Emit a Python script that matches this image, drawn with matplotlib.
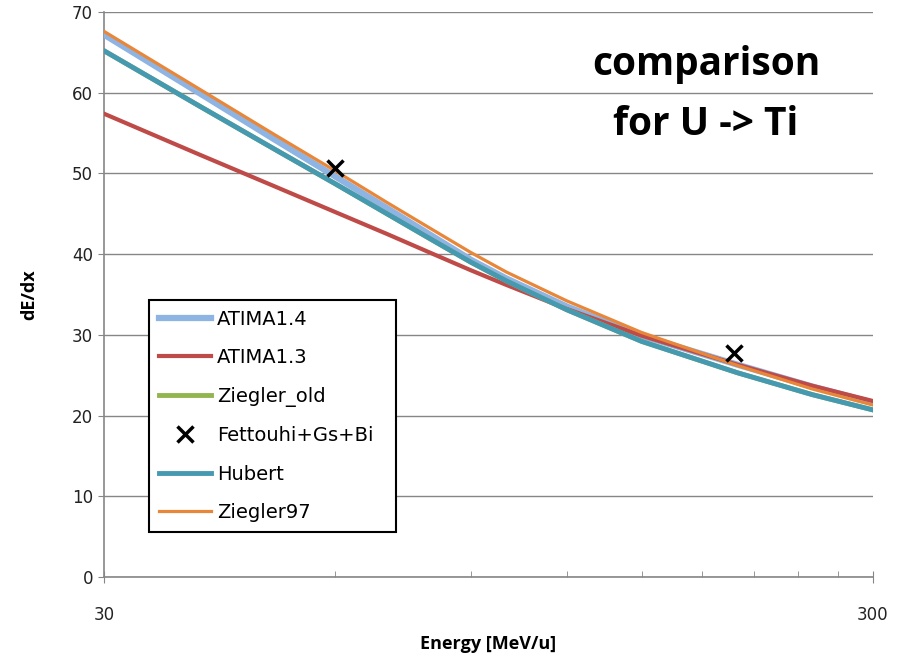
import matplotlib
matplotlib.use("Agg")
import matplotlib.pyplot as plt
from matplotlib.ticker import FixedLocator, NullFormatter

# energy grid [MeV/u]
energy = [30, 40, 50, 60, 70, 80, 90, 100, 120, 150, 200, 250, 300]

# dE/dx curves
atima14 = [67.2, 59.9, 54.2, 49.6, 45.7, 42.3, 39.3, 37.0, 33.5, 29.9, 26.3, 23.6, 21.6]
atima13 = [57.4, 52.3, 48.4, 45.2, 42.5, 40.1, 38.0, 36.2, 33.2, 29.9, 26.3, 23.7, 21.8]
hubert = [65.2, 58.3, 53.0, 48.7, 45.0, 41.8, 39.0, 36.7, 33.1, 29.2, 25.3, 22.6, 20.7]
ziegler_old = hubert  # hidden under the Hubert curve
ziegler97 = [67.6, 60.4, 54.8, 50.3, 46.4, 43.1, 40.2, 37.8, 34.2, 30.3, 26.2, 23.3, 21.3]

# measured points
fett_e = [60, 198]
fett_v = [50.7, 27.8]

y_ticks = [0, 10, 20, 30, 40, 50, 60, 70]
x_major = [30, 300]
x_minor = [60, 90, 120, 150, 180, 210, 240, 270]

grey = "#868686"

fig = plt.figure(figsize=(9.11, 6.59), dpi=100)
ax = fig.add_axes([104 / 911, 82 / 659, 769 / 911, 565 / 659])

ax.plot(energy, atima14, color="#8EB4E3", lw=4.5, label="ATIMA1.4", zorder=3)
ax.plot(energy, atima13, color="#BE4B48", lw=3.0, label="ATIMA1.3", zorder=4)
ax.plot(energy, ziegler_old, color="#92B54E", lw=3.5, label="Ziegler_old", zorder=5)
ax.plot(fett_e, fett_v, ls="none", marker="x", ms=11, mew=2.5, color="black",
        label="Fettouhi+Gs+Bi", zorder=9)
ax.plot(energy, hubert, color="#4599B0", lw=3.5, label="Hubert", zorder=7)
ax.plot(energy, ziegler97, color="#E8873A", lw=2.3, label="Ziegler97", zorder=8)

ax.set_xscale("log")
ax.set_xlim(30, 300)
ax.set_ylim(0, 70)
ax.xaxis.set_major_locator(FixedLocator(x_major))
ax.xaxis.set_minor_locator(FixedLocator(x_minor))
ax.xaxis.set_minor_formatter(NullFormatter())
ax.set_xticklabels([str(v) for v in x_major])
ax.set_yticks(y_ticks)

ax.grid(axis="y", color=grey, lw=1.0, zorder=0)
ax.set_axisbelow(True)
for s in ["top", "right"]:
    ax.spines[s].set_visible(False)
for s in ["left", "bottom"]:
    ax.spines[s].set_color(grey)
    ax.spines[s].set_linewidth(1.2)

ax.tick_params(axis="y", which="major", direction="out", length=4, color=grey,
               labelsize=12, pad=4, labelcolor="#222222")
ax.tick_params(axis="x", which="major", direction="inout", length=8, color=grey,
               labelsize=12, pad=17, labelcolor="#222222")
ax.tick_params(axis="x", which="minor", direction="in", length=4, color=grey)
for lab in ax.get_xticklabels() + ax.get_yticklabels():
    lab.set_family("DejaVu Sans")

ax.set_xlabel("Energy [MeV/u]", family="Open Sans", weight="bold", fontsize=13,
              labelpad=8)
ax.set_ylabel("dE/dx", family="Open Sans", weight="bold", fontsize=13, labelpad=24)

leg = ax.legend(loc="upper left", bbox_to_anchor=(0.0585, 0.0796, 0.3215, 0.4106),
                mode="expand", borderaxespad=0, fancybox=False, framealpha=1,
                edgecolor="black", prop={"family": "DejaVu Sans", "size": 14},
                handlelength=2.7, handletextpad=0.3, labelspacing=1.0,
                borderpad=0.5)
leg.get_frame().set_linewidth(1.5)
leg.set_zorder(10)

fig.text(706 / 911, 1 - 75 / 659, "comparison", family="Open Sans", weight="bold",
         fontsize=28, ha="center", va="baseline")
fig.text(706 / 911, 1 - 135 / 659, "for U -> Ti", family="Open Sans", weight="bold",
         fontsize=28, ha="center", va="baseline")

fig.savefig("out.png", dpi=100)
